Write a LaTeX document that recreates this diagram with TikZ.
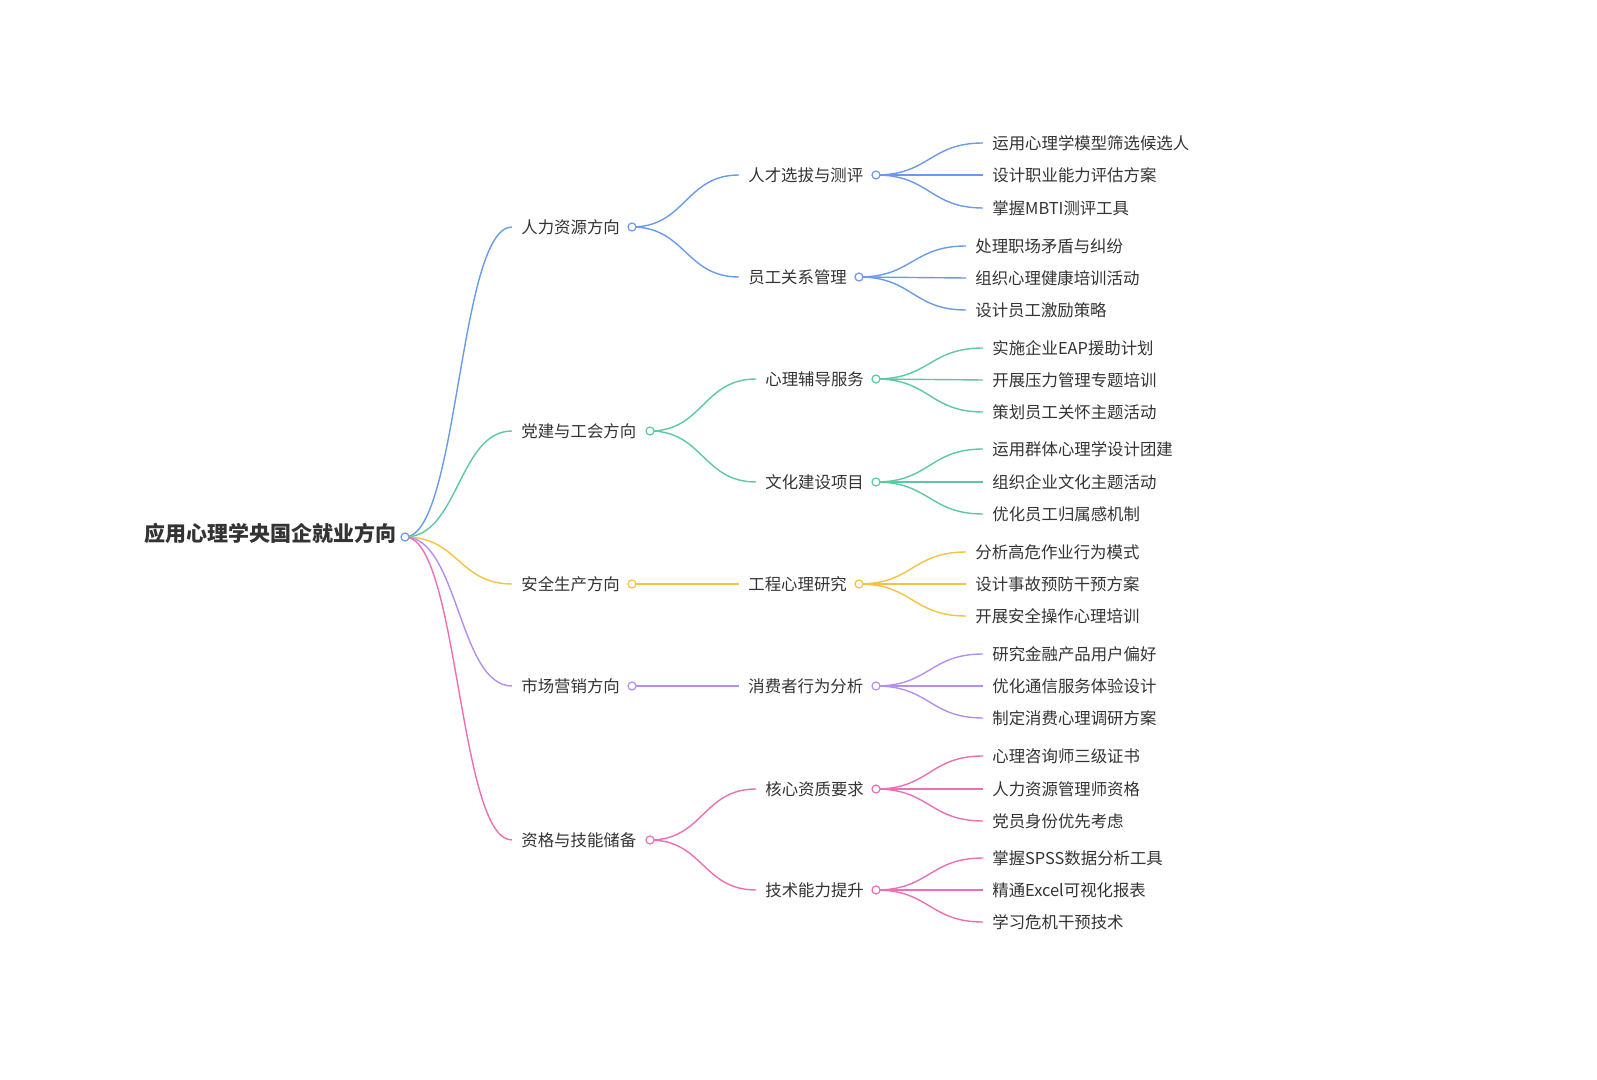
\documentclass[tikz,border=0pt]{standalone}
\usepackage{fontspec}
\setmainfont{Noto Sans CJK SC}
\usetikzlibrary{calc,backgrounds}
\definecolor{cb}{HTML}{6A9BE8}
\definecolor{cg}{HTML}{5CC9A0}
\definecolor{co}{HTML}{F5C244}
\definecolor{cp}{HTML}{B48FF0}
\definecolor{ck}{HTML}{EC6FB6}
\definecolor{tx}{HTML}{333333}
\tikzset{
 lf/.style={inner sep=0pt,anchor=west,text=tx,font=\fontsize{8.2}{10}\selectfont},
 dotc/.style={circle,draw=#1,fill=white,line width=0.6pt,minimum size=4pt,inner sep=0pt},
 ln/.style={draw=#1,line width=0.7pt}
}
\newcommand\conn[3]{\begin{pgfonlayer}{background}\draw[ln=#1] let \p1=(#2),\p2=(#3) in (\p1) .. controls ({(\x1+\x2)/2},\y1) and ({(\x1+\x2)/2},\y2) .. (\p2);\end{pgfonlayer}}
\newcommand\midnode[7]{%
 \node[lf] (#1) at (#4,#5) {#6};
 \coordinate (#1e) at (#4-9,#5);
 \conn{#2}{#3}{#1e}
 \node[dotc=#2] (#1c) at (#7,#5) {};
}
\newcommand\leaves[9]{%
 \node[lf] (#1a) at (#3,#4) {#5}; \coordinate (#1ae) at (#3-9,#4); \conn{#2}{#1c}{#1ae}
 \node[lf] (#1b) at (#3,#6) {#7}; \coordinate (#1be) at (#3-9,#6); \conn{#2}{#1c}{#1be}
 \node[lf] (#1d) at (#3,#8) {#9}; \coordinate (#1de) at (#3-9,#8); \conn{#2}{#1c}{#1de}
}
\begin{document}
\begin{tikzpicture}[x=0.5pt,y=-0.5pt]
\useasboundingbox (0,0) rectangle (1597,1080);
\node[inner sep=0pt,anchor=east,text=tx,font=\fontsize{10.5}{12}\selectfont\bfseries] (root) at (397,533) {应用心理学央国企就业方向};
\node[dotc=cb] (rc) at (405,537) {};
\midnode{a}{cb}{rc}{521}{227}{人力资源方向}{632}
\midnode{b}{cg}{rc}{521}{431}{党建与工会方向}{650}
\midnode{c}{co}{rc}{521}{584}{安全生产方向}{632}
\midnode{d}{cp}{rc}{521}{686}{市场营销方向}{632}
\midnode{e}{ck}{rc}{521}{840}{资格与技能储备}{650}
\midnode{aa}{cb}{ac}{748}{175}{人才选拔与测评}{876}
\midnode{ab}{cb}{ac}{748}{277}{员工关系管理}{859}
\midnode{ba}{cg}{bc}{765}{379}{心理辅导服务}{876}
\midnode{bb}{cg}{bc}{765}{482}{文化建设项目}{876}
\midnode{ca}{co}{cc}{748}{584}{工程心理研究}{859}
\midnode{da}{cp}{dc}{748}{686}{消费者行为分析}{876}
\midnode{ea}{ck}{ec}{765}{789}{核心资质要求}{876}
\midnode{eb}{ck}{ec}{765}{890}{技术能力提升}{876}
\leaves{aa}{cb}{992}{143}{运用心理学模型筛选候选人}{175}{设计职业能力评估方案}{208}{掌握MBTI测评工具}
\leaves{ab}{cb}{975}{246}{处理职场矛盾与纠纷}{278}{组织心理健康培训活动}{310}{设计员工激励策略}
\leaves{ba}{cg}{992}{348}{实施企业EAP援助计划}{380}{开展压力管理专题培训}{412}{策划员工关怀主题活动}
\leaves{bb}{cg}{992}{449}{运用群体心理学设计团建}{482}{组织企业文化主题活动}{514}{优化员工归属感机制}
\leaves{ca}{co}{975}{552}{分析高危作业行为模式}{584}{设计事故预防干预方案}{616}{开展安全操作心理培训}
\leaves{da}{cp}{992}{654}{研究金融产品用户偏好}{686}{优化通信服务体验设计}{718}{制定消费心理调研方案}
\leaves{ea}{ck}{992}{756}{心理咨询师三级证书}{789}{人力资源管理师资格}{821}{党员身份优先考虑}
\leaves{eb}{ck}{992}{858}{掌握SPSS数据分析工具}{890}{精通Excel可视化报表}{922}{学习危机干预技术}
\end{tikzpicture}
\end{document}
